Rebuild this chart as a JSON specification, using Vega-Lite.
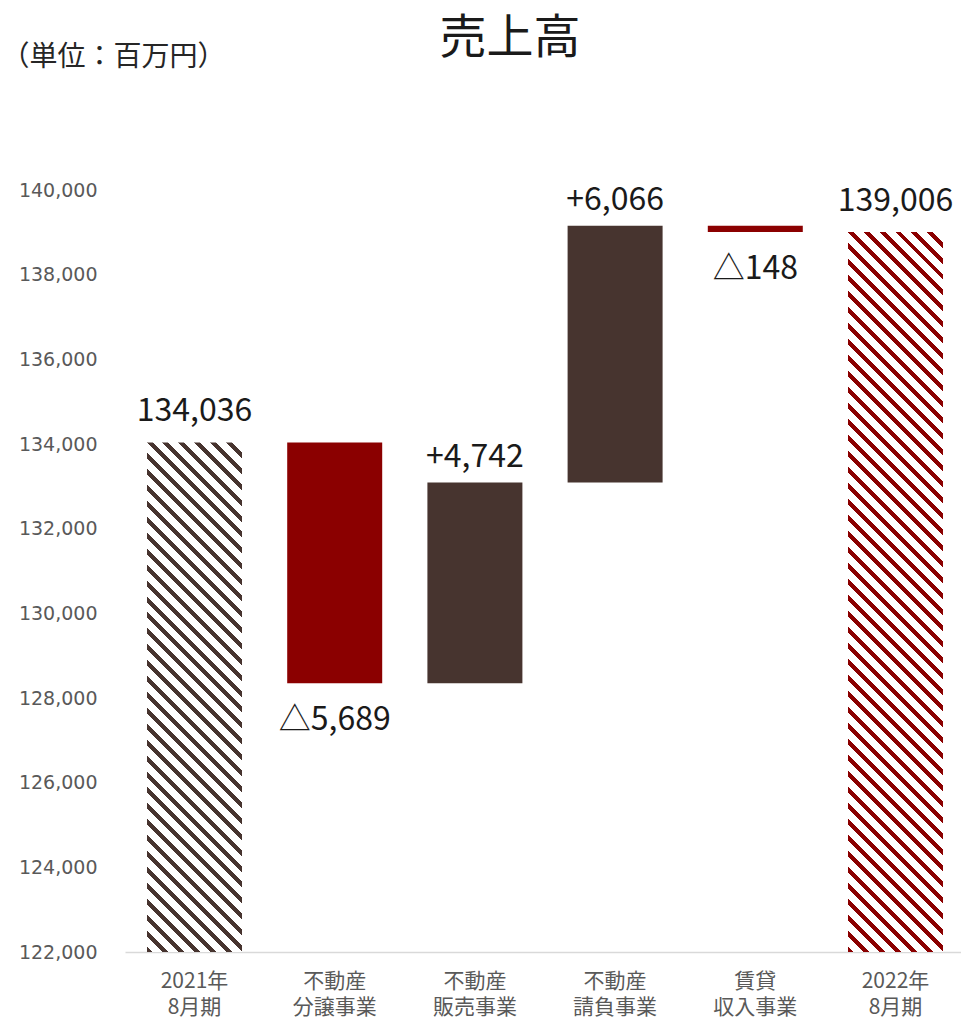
{
"$schema": "https://vega.github.io/schema/vega-lite/v6.json",
"width": 836,
"height": 762,
"autosize": {"type": "none"},
"padding": {"left": 125, "top": 190, "right": 0, "bottom": 68},
"background": "white",
"title": {"text": "売上高", "font": "Noto Sans CJK JP", "fontSize": 47, "fontWeight": "normal", "color": "#1a1a1a", "frame": "group", "anchor": "middle", "dx": -33, "offset": -20},
"data": {"values": [
{"cat": "2021年\n8月期", "start": 122000, "end": 134036, "label": "134,036", "kind": "total0"},
{"cat": "不動産\n分譲事業", "start": 134036, "end": 128347, "label": "△5,689", "kind": "decrease"},
{"cat": "不動産\n販売事業", "start": 128347, "end": 133089, "label": "+4,742", "kind": "increase"},
{"cat": "不動産\n請負事業", "start": 133089, "end": 139155, "label": "+6,066", "kind": "increase"},
{"cat": "賃貸\n収入事業", "start": 139155, "end": 139007, "label": "△148", "kind": "decrease"},
{"cat": "2022年\n8月期", "start": 122000, "end": 139006, "label": "139,006", "kind": "total1"}
]},
"encoding": {
"x": {"field": "cat", "type": "nominal", "sort": null,
"scale": {"domain": ["2021年\n8月期", "不動産\n分譲事業", "不動産\n販売事業", "不動産\n請負事業", "賃貸\n収入事業", "2022年\n8月期"], "paddingInner": 0.3224, "paddingOuter": 0.1427, "align": 0.55},
"axis": {"title": null, "labelAngle": 0, "labelExpr": "split(datum.label, '\\n')", "labelFont": "Noto Sans CJK JP", "labelFontSize": 21, "labelColor": "#595959", "labelPadding": 18, "labelLineHeight": 26, "ticks": false, "domainColor": "#d9d9d9", "domainWidth": 1.5, "grid": false}},
"y": {"field": "end", "type": "quantitative",
"scale": {"domain": [122000, 140000], "zero": false, "nice": false},
"axis": {"values": [122000, 124000, 126000, 128000, 130000, 132000, 134000, 136000, 138000, 140000], "format": ",d", "labelFont": "DejaVu Sans", "labelFontSize": 19, "labelColor": "#595959", "labelPadding": 28, "ticks": false, "domain": false, "grid": false,
"title": "（単位：百万円）", "titleX": -124, "titleY": -133, "titleAngle": 0, "titleAlign": "left", "titleBaseline": "middle", "titleFont": "Noto Sans CJK JP", "titleFontSize": 28, "titleFontWeight": "normal", "titleColor": "#262626"}}
},
"layer": [
{"transform": [{"filter": "datum.kind == 'decrease'"}], "mark": {"type": "bar", "color": "#8b0000"}, "encoding": {"y2": {"field": "start"}}},
{"transform": [{"filter": "datum.kind == 'increase'"}], "mark": {"type": "bar", "color": "#47342f"}, "encoding": {"y2": {"field": "start"}}},
{"transform": [{"filter": "datum.kind == 'total0'"}], "mark": {"type": "bar", "fill": {"gradient": "linear", "x1": 0, "y1": 1, "x2": 0.21379, "y2": -0.14658, "stops": [
{"offset":0,"color":"#47342f"},{"offset":0.00987,"color":"#47342f"},{"offset":0.00987,"color":"#ffffff"},{"offset":0.02632,"color":"#ffffff"},
{"offset":0.02632,"color":"#47342f"},{"offset":0.03618,"color":"#47342f"},{"offset":0.03618,"color":"#ffffff"},{"offset":0.05263,"color":"#ffffff"},
{"offset":0.05263,"color":"#47342f"},{"offset":0.0625,"color":"#47342f"},{"offset":0.0625,"color":"#ffffff"},{"offset":0.07895,"color":"#ffffff"},
{"offset":0.07895,"color":"#47342f"},{"offset":0.08882,"color":"#47342f"},{"offset":0.08882,"color":"#ffffff"},{"offset":0.10526,"color":"#ffffff"},
{"offset":0.10526,"color":"#47342f"},{"offset":0.11513,"color":"#47342f"},{"offset":0.11513,"color":"#ffffff"},{"offset":0.13158,"color":"#ffffff"},
{"offset":0.13158,"color":"#47342f"},{"offset":0.14145,"color":"#47342f"},{"offset":0.14145,"color":"#ffffff"},{"offset":0.15789,"color":"#ffffff"},
{"offset":0.15789,"color":"#47342f"},{"offset":0.16776,"color":"#47342f"},{"offset":0.16776,"color":"#ffffff"},{"offset":0.18421,"color":"#ffffff"},
{"offset":0.18421,"color":"#47342f"},{"offset":0.19408,"color":"#47342f"},{"offset":0.19408,"color":"#ffffff"},{"offset":0.21053,"color":"#ffffff"},
{"offset":0.21053,"color":"#47342f"},{"offset":0.22039,"color":"#47342f"},{"offset":0.22039,"color":"#ffffff"},{"offset":0.23684,"color":"#ffffff"},
{"offset":0.23684,"color":"#47342f"},{"offset":0.24671,"color":"#47342f"},{"offset":0.24671,"color":"#ffffff"},{"offset":0.26316,"color":"#ffffff"},
{"offset":0.26316,"color":"#47342f"},{"offset":0.27303,"color":"#47342f"},{"offset":0.27303,"color":"#ffffff"},{"offset":0.28947,"color":"#ffffff"},
{"offset":0.28947,"color":"#47342f"},{"offset":0.29934,"color":"#47342f"},{"offset":0.29934,"color":"#ffffff"},{"offset":0.31579,"color":"#ffffff"},
{"offset":0.31579,"color":"#47342f"},{"offset":0.32566,"color":"#47342f"},{"offset":0.32566,"color":"#ffffff"},{"offset":0.34211,"color":"#ffffff"},
{"offset":0.34211,"color":"#47342f"},{"offset":0.35197,"color":"#47342f"},{"offset":0.35197,"color":"#ffffff"},{"offset":0.36842,"color":"#ffffff"},
{"offset":0.36842,"color":"#47342f"},{"offset":0.37829,"color":"#47342f"},{"offset":0.37829,"color":"#ffffff"},{"offset":0.39474,"color":"#ffffff"},
{"offset":0.39474,"color":"#47342f"},{"offset":0.40461,"color":"#47342f"},{"offset":0.40461,"color":"#ffffff"},{"offset":0.42105,"color":"#ffffff"},
{"offset":0.42105,"color":"#47342f"},{"offset":0.43092,"color":"#47342f"},{"offset":0.43092,"color":"#ffffff"},{"offset":0.44737,"color":"#ffffff"},
{"offset":0.44737,"color":"#47342f"},{"offset":0.45724,"color":"#47342f"},{"offset":0.45724,"color":"#ffffff"},{"offset":0.47368,"color":"#ffffff"},
{"offset":0.47368,"color":"#47342f"},{"offset":0.48355,"color":"#47342f"},{"offset":0.48355,"color":"#ffffff"},{"offset":0.5,"color":"#ffffff"},
{"offset":0.5,"color":"#47342f"},{"offset":0.50987,"color":"#47342f"},{"offset":0.50987,"color":"#ffffff"},{"offset":0.52632,"color":"#ffffff"},
{"offset":0.52632,"color":"#47342f"},{"offset":0.53618,"color":"#47342f"},{"offset":0.53618,"color":"#ffffff"},{"offset":0.55263,"color":"#ffffff"},
{"offset":0.55263,"color":"#47342f"},{"offset":0.5625,"color":"#47342f"},{"offset":0.5625,"color":"#ffffff"},{"offset":0.57895,"color":"#ffffff"},
{"offset":0.57895,"color":"#47342f"},{"offset":0.58882,"color":"#47342f"},{"offset":0.58882,"color":"#ffffff"},{"offset":0.60526,"color":"#ffffff"},
{"offset":0.60526,"color":"#47342f"},{"offset":0.61513,"color":"#47342f"},{"offset":0.61513,"color":"#ffffff"},{"offset":0.63158,"color":"#ffffff"},
{"offset":0.63158,"color":"#47342f"},{"offset":0.64145,"color":"#47342f"},{"offset":0.64145,"color":"#ffffff"},{"offset":0.65789,"color":"#ffffff"},
{"offset":0.65789,"color":"#47342f"},{"offset":0.66776,"color":"#47342f"},{"offset":0.66776,"color":"#ffffff"},{"offset":0.68421,"color":"#ffffff"},
{"offset":0.68421,"color":"#47342f"},{"offset":0.69408,"color":"#47342f"},{"offset":0.69408,"color":"#ffffff"},{"offset":0.71053,"color":"#ffffff"},
{"offset":0.71053,"color":"#47342f"},{"offset":0.72039,"color":"#47342f"},{"offset":0.72039,"color":"#ffffff"},{"offset":0.73684,"color":"#ffffff"},
{"offset":0.73684,"color":"#47342f"},{"offset":0.74671,"color":"#47342f"},{"offset":0.74671,"color":"#ffffff"},{"offset":0.76316,"color":"#ffffff"},
{"offset":0.76316,"color":"#47342f"},{"offset":0.77303,"color":"#47342f"},{"offset":0.77303,"color":"#ffffff"},{"offset":0.78947,"color":"#ffffff"},
{"offset":0.78947,"color":"#47342f"},{"offset":0.79934,"color":"#47342f"},{"offset":0.79934,"color":"#ffffff"},{"offset":0.81579,"color":"#ffffff"},
{"offset":0.81579,"color":"#47342f"},{"offset":0.82566,"color":"#47342f"},{"offset":0.82566,"color":"#ffffff"},{"offset":0.84211,"color":"#ffffff"},
{"offset":0.84211,"color":"#47342f"},{"offset":0.85197,"color":"#47342f"},{"offset":0.85197,"color":"#ffffff"},{"offset":0.86842,"color":"#ffffff"},
{"offset":0.86842,"color":"#47342f"},{"offset":0.87829,"color":"#47342f"},{"offset":0.87829,"color":"#ffffff"},{"offset":0.89474,"color":"#ffffff"},
{"offset":0.89474,"color":"#47342f"},{"offset":0.90461,"color":"#47342f"},{"offset":0.90461,"color":"#ffffff"},{"offset":0.92105,"color":"#ffffff"},
{"offset":0.92105,"color":"#47342f"},{"offset":0.93092,"color":"#47342f"},{"offset":0.93092,"color":"#ffffff"},{"offset":0.94737,"color":"#ffffff"},
{"offset":0.94737,"color":"#47342f"},{"offset":0.95724,"color":"#47342f"},{"offset":0.95724,"color":"#ffffff"},{"offset":0.97368,"color":"#ffffff"},
{"offset":0.97368,"color":"#47342f"},{"offset":0.98355,"color":"#47342f"},{"offset":0.98355,"color":"#ffffff"},{"offset":1,"color":"#ffffff"}
]}}, "encoding": {"y2": {"field": "start"}}},
{"transform": [{"filter": "datum.kind == 'total1'"}], "mark": {"type": "bar", "fill": {"gradient": "linear", "x1": 0, "y1": 1, "x2": 0.14682, "y2": -0.11262, "stops": [
{"offset":0,"color":"#8b0000"},{"offset":0.00735,"color":"#8b0000"},{"offset":0.00735,"color":"#ffffff"},{"offset":0.01961,"color":"#ffffff"},
{"offset":0.01961,"color":"#8b0000"},{"offset":0.02696,"color":"#8b0000"},{"offset":0.02696,"color":"#ffffff"},{"offset":0.03922,"color":"#ffffff"},
{"offset":0.03922,"color":"#8b0000"},{"offset":0.04657,"color":"#8b0000"},{"offset":0.04657,"color":"#ffffff"},{"offset":0.05882,"color":"#ffffff"},
{"offset":0.05882,"color":"#8b0000"},{"offset":0.06617,"color":"#8b0000"},{"offset":0.06617,"color":"#ffffff"},{"offset":0.07843,"color":"#ffffff"},
{"offset":0.07843,"color":"#8b0000"},{"offset":0.08578,"color":"#8b0000"},{"offset":0.08578,"color":"#ffffff"},{"offset":0.09804,"color":"#ffffff"},
{"offset":0.09804,"color":"#8b0000"},{"offset":0.10539,"color":"#8b0000"},{"offset":0.10539,"color":"#ffffff"},{"offset":0.11765,"color":"#ffffff"},
{"offset":0.11765,"color":"#8b0000"},{"offset":0.125,"color":"#8b0000"},{"offset":0.125,"color":"#ffffff"},{"offset":0.13725,"color":"#ffffff"},
{"offset":0.13725,"color":"#8b0000"},{"offset":0.1446,"color":"#8b0000"},{"offset":0.1446,"color":"#ffffff"},{"offset":0.15686,"color":"#ffffff"},
{"offset":0.15686,"color":"#8b0000"},{"offset":0.16421,"color":"#8b0000"},{"offset":0.16421,"color":"#ffffff"},{"offset":0.17647,"color":"#ffffff"},
{"offset":0.17647,"color":"#8b0000"},{"offset":0.18382,"color":"#8b0000"},{"offset":0.18382,"color":"#ffffff"},{"offset":0.19608,"color":"#ffffff"},
{"offset":0.19608,"color":"#8b0000"},{"offset":0.20343,"color":"#8b0000"},{"offset":0.20343,"color":"#ffffff"},{"offset":0.21569,"color":"#ffffff"},
{"offset":0.21569,"color":"#8b0000"},{"offset":0.22304,"color":"#8b0000"},{"offset":0.22304,"color":"#ffffff"},{"offset":0.23529,"color":"#ffffff"},
{"offset":0.23529,"color":"#8b0000"},{"offset":0.24264,"color":"#8b0000"},{"offset":0.24264,"color":"#ffffff"},{"offset":0.2549,"color":"#ffffff"},
{"offset":0.2549,"color":"#8b0000"},{"offset":0.26225,"color":"#8b0000"},{"offset":0.26225,"color":"#ffffff"},{"offset":0.27451,"color":"#ffffff"},
{"offset":0.27451,"color":"#8b0000"},{"offset":0.28186,"color":"#8b0000"},{"offset":0.28186,"color":"#ffffff"},{"offset":0.29412,"color":"#ffffff"},
{"offset":0.29412,"color":"#8b0000"},{"offset":0.30147,"color":"#8b0000"},{"offset":0.30147,"color":"#ffffff"},{"offset":0.31373,"color":"#ffffff"},
{"offset":0.31373,"color":"#8b0000"},{"offset":0.32108,"color":"#8b0000"},{"offset":0.32108,"color":"#ffffff"},{"offset":0.33333,"color":"#ffffff"},
{"offset":0.33333,"color":"#8b0000"},{"offset":0.34068,"color":"#8b0000"},{"offset":0.34068,"color":"#ffffff"},{"offset":0.35294,"color":"#ffffff"},
{"offset":0.35294,"color":"#8b0000"},{"offset":0.36029,"color":"#8b0000"},{"offset":0.36029,"color":"#ffffff"},{"offset":0.37255,"color":"#ffffff"},
{"offset":0.37255,"color":"#8b0000"},{"offset":0.3799,"color":"#8b0000"},{"offset":0.3799,"color":"#ffffff"},{"offset":0.39216,"color":"#ffffff"},
{"offset":0.39216,"color":"#8b0000"},{"offset":0.39951,"color":"#8b0000"},{"offset":0.39951,"color":"#ffffff"},{"offset":0.41176,"color":"#ffffff"},
{"offset":0.41176,"color":"#8b0000"},{"offset":0.41911,"color":"#8b0000"},{"offset":0.41911,"color":"#ffffff"},{"offset":0.43137,"color":"#ffffff"},
{"offset":0.43137,"color":"#8b0000"},{"offset":0.43872,"color":"#8b0000"},{"offset":0.43872,"color":"#ffffff"},{"offset":0.45098,"color":"#ffffff"},
{"offset":0.45098,"color":"#8b0000"},{"offset":0.45833,"color":"#8b0000"},{"offset":0.45833,"color":"#ffffff"},{"offset":0.47059,"color":"#ffffff"},
{"offset":0.47059,"color":"#8b0000"},{"offset":0.47794,"color":"#8b0000"},{"offset":0.47794,"color":"#ffffff"},{"offset":0.4902,"color":"#ffffff"},
{"offset":0.4902,"color":"#8b0000"},{"offset":0.49755,"color":"#8b0000"},{"offset":0.49755,"color":"#ffffff"},{"offset":0.5098,"color":"#ffffff"},
{"offset":0.5098,"color":"#8b0000"},{"offset":0.51715,"color":"#8b0000"},{"offset":0.51715,"color":"#ffffff"},{"offset":0.52941,"color":"#ffffff"},
{"offset":0.52941,"color":"#8b0000"},{"offset":0.53676,"color":"#8b0000"},{"offset":0.53676,"color":"#ffffff"},{"offset":0.54902,"color":"#ffffff"},
{"offset":0.54902,"color":"#8b0000"},{"offset":0.55637,"color":"#8b0000"},{"offset":0.55637,"color":"#ffffff"},{"offset":0.56863,"color":"#ffffff"},
{"offset":0.56863,"color":"#8b0000"},{"offset":0.57598,"color":"#8b0000"},{"offset":0.57598,"color":"#ffffff"},{"offset":0.58824,"color":"#ffffff"},
{"offset":0.58824,"color":"#8b0000"},{"offset":0.59559,"color":"#8b0000"},{"offset":0.59559,"color":"#ffffff"},{"offset":0.60784,"color":"#ffffff"},
{"offset":0.60784,"color":"#8b0000"},{"offset":0.61519,"color":"#8b0000"},{"offset":0.61519,"color":"#ffffff"},{"offset":0.62745,"color":"#ffffff"},
{"offset":0.62745,"color":"#8b0000"},{"offset":0.6348,"color":"#8b0000"},{"offset":0.6348,"color":"#ffffff"},{"offset":0.64706,"color":"#ffffff"},
{"offset":0.64706,"color":"#8b0000"},{"offset":0.65441,"color":"#8b0000"},{"offset":0.65441,"color":"#ffffff"},{"offset":0.66667,"color":"#ffffff"},
{"offset":0.66667,"color":"#8b0000"},{"offset":0.67402,"color":"#8b0000"},{"offset":0.67402,"color":"#ffffff"},{"offset":0.68627,"color":"#ffffff"},
{"offset":0.68627,"color":"#8b0000"},{"offset":0.69362,"color":"#8b0000"},{"offset":0.69362,"color":"#ffffff"},{"offset":0.70588,"color":"#ffffff"},
{"offset":0.70588,"color":"#8b0000"},{"offset":0.71323,"color":"#8b0000"},{"offset":0.71323,"color":"#ffffff"},{"offset":0.72549,"color":"#ffffff"},
{"offset":0.72549,"color":"#8b0000"},{"offset":0.73284,"color":"#8b0000"},{"offset":0.73284,"color":"#ffffff"},{"offset":0.7451,"color":"#ffffff"},
{"offset":0.7451,"color":"#8b0000"},{"offset":0.75245,"color":"#8b0000"},{"offset":0.75245,"color":"#ffffff"},{"offset":0.76471,"color":"#ffffff"},
{"offset":0.76471,"color":"#8b0000"},{"offset":0.77206,"color":"#8b0000"},{"offset":0.77206,"color":"#ffffff"},{"offset":0.78431,"color":"#ffffff"},
{"offset":0.78431,"color":"#8b0000"},{"offset":0.79166,"color":"#8b0000"},{"offset":0.79166,"color":"#ffffff"},{"offset":0.80392,"color":"#ffffff"},
{"offset":0.80392,"color":"#8b0000"},{"offset":0.81127,"color":"#8b0000"},{"offset":0.81127,"color":"#ffffff"},{"offset":0.82353,"color":"#ffffff"},
{"offset":0.82353,"color":"#8b0000"},{"offset":0.83088,"color":"#8b0000"},{"offset":0.83088,"color":"#ffffff"},{"offset":0.84314,"color":"#ffffff"},
{"offset":0.84314,"color":"#8b0000"},{"offset":0.85049,"color":"#8b0000"},{"offset":0.85049,"color":"#ffffff"},{"offset":0.86275,"color":"#ffffff"},
{"offset":0.86275,"color":"#8b0000"},{"offset":0.8701,"color":"#8b0000"},{"offset":0.8701,"color":"#ffffff"},{"offset":0.88235,"color":"#ffffff"},
{"offset":0.88235,"color":"#8b0000"},{"offset":0.8897,"color":"#8b0000"},{"offset":0.8897,"color":"#ffffff"},{"offset":0.90196,"color":"#ffffff"},
{"offset":0.90196,"color":"#8b0000"},{"offset":0.90931,"color":"#8b0000"},{"offset":0.90931,"color":"#ffffff"},{"offset":0.92157,"color":"#ffffff"},
{"offset":0.92157,"color":"#8b0000"},{"offset":0.92892,"color":"#8b0000"},{"offset":0.92892,"color":"#ffffff"},{"offset":0.94118,"color":"#ffffff"},
{"offset":0.94118,"color":"#8b0000"},{"offset":0.94853,"color":"#8b0000"},{"offset":0.94853,"color":"#ffffff"},{"offset":0.96078,"color":"#ffffff"},
{"offset":0.96078,"color":"#8b0000"},{"offset":0.96813,"color":"#8b0000"},{"offset":0.96813,"color":"#ffffff"},{"offset":0.98039,"color":"#ffffff"},
{"offset":0.98039,"color":"#8b0000"},{"offset":0.98774,"color":"#8b0000"},{"offset":0.98774,"color":"#ffffff"},{"offset":1,"color":"#ffffff"}
]}}, "encoding": {"y2": {"field": "start"}}},
{"transform": [{"filter": "datum.kind == 'total0' || datum.kind == 'total1'"}], "mark": {"type": "text", "font": "Noto Sans CJK JP", "fontSize": 32, "color": "#1a1a1a", "baseline": "middle", "dy": -31}, "encoding": {"text": {"field": "label"}}},
{"transform": [{"filter": "datum.kind == 'increase'"}], "mark": {"type": "text", "font": "Noto Sans CJK JP", "fontSize": 32, "color": "#1a1a1a", "baseline": "middle", "dy": -26}, "encoding": {"text": {"field": "label"}}},
{"transform": [{"filter": "datum.kind == 'decrease'"}], "mark": {"type": "text", "font": "Noto Sans CJK JP", "fontSize": 32, "color": "#1a1a1a", "baseline": "middle", "dy": 37}, "encoding": {"text": {"field": "label"}}}
],
"config": {"view": {"stroke": null}}
}
